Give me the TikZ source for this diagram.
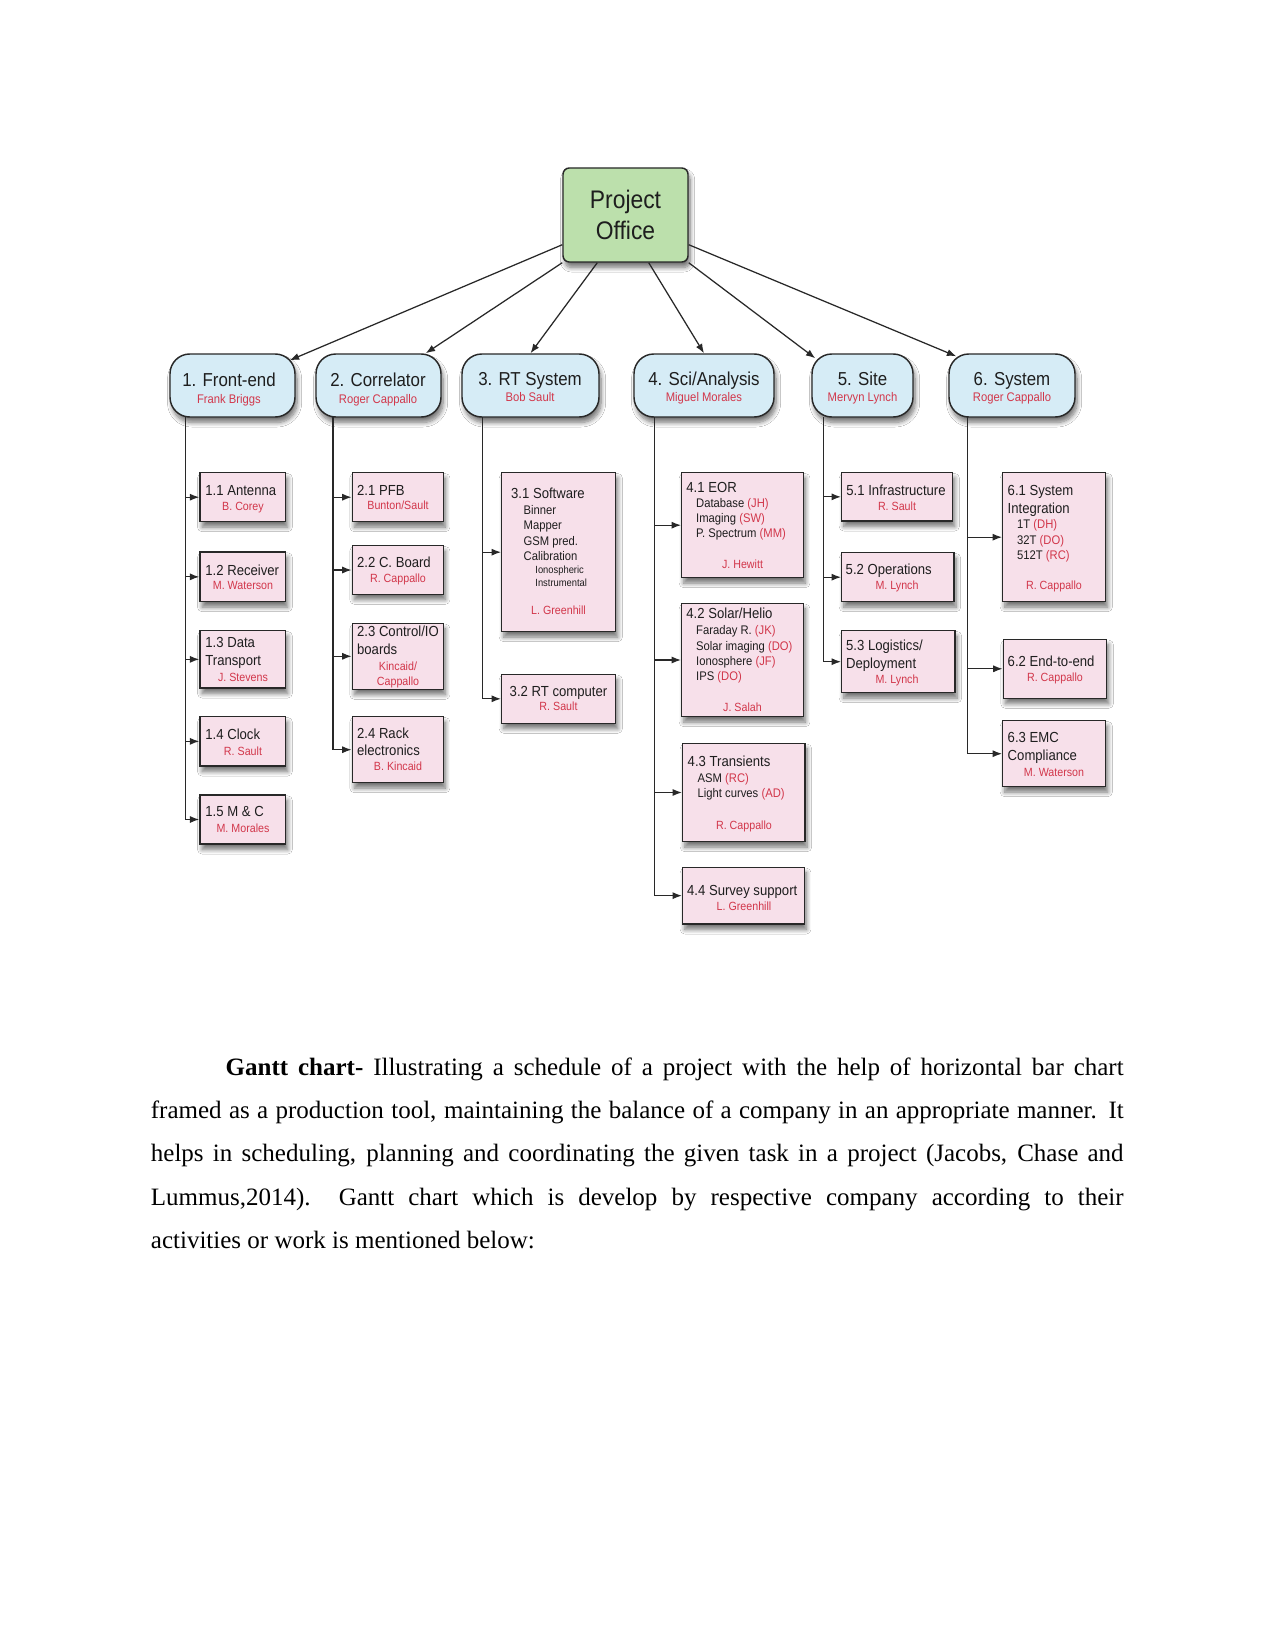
\documentclass[tikz,border=0pt]{standalone}
\usepackage{fontspec}
\setmainfont{Liberation Serif}
\newfontfamily\dsans[FakeStretch=0.9]{Liberation Sans}
\usetikzlibrary{arrows.meta,shadows,shadows.blur,fit,calc}
\definecolor{pogreen}{RGB}{188,224,172}
\definecolor{lblue}{RGB}{214,236,246}
\definecolor{lpink}{RGB}{247,224,234}
\definecolor{redtxt}{RGB}{210,55,75}
\definecolor{linec}{RGB}{40,40,40}
\definecolor{txtc}{RGB}{30,30,30}
\tikzset{
  conn/.style={draw=linec, line width=0.6pt, -{Latex[length=4.5pt,width=3.4pt]}},
  shad/.style={blur shadow={shadow xshift=1pt, shadow yshift=-2.6pt, shadow blur steps=8, shadow blur radius=2.2pt, shadow opacity=55}},
  pobox/.style={shad, draw=linec, line width=0.7pt, fill=pogreen, rounded corners=3pt, inner sep=0pt},
  lonebox/.style={shad, draw=linec, line width=0.7pt, fill=lblue, rounded corners=9.5pt, inner sep=0pt},
  ltwobox/.style={shad, draw=linec, line width=0.7pt, fill=lpink, inner sep=0pt},
  pot/.style={font=\dsans\fontsize{12.2}{14}\selectfont, text=txtc, anchor=base, inner sep=0pt},
  lonet/.style={font=\dsans\fontsize{9}{10}\selectfont, text=txtc, anchor=base, inner sep=0pt},
  lonen/.style={font=\dsans\fontsize{6}{7}\selectfont, text=redtxt, anchor=base, inner sep=0pt},
  ttl/.style={font=\dsans\fontsize{7}{8}\selectfont, text=txtc, anchor=base west, inner sep=0pt},
  sub/.style={font=\dsans\fontsize{6}{7}\selectfont, text=txtc, anchor=base west, inner sep=0pt},
  tinyt/.style={font=\dsans\fontsize{5}{5.5}\selectfont, text=txtc, anchor=base west, inner sep=0pt},
  nm/.style={font=\dsans\fontsize{5.7}{6.5}\selectfont, text=redtxt, anchor=base, inner sep=0pt},
  body/.style={font=\fontsize{12}{14}\selectfont, anchor=base west, inner sep=0pt},
}
\newcommand{\rd}[1]{\textcolor{redtxt}{#1}}
\begin{document}
\begin{tikzpicture}[x=0.48pt,y=-0.48pt]
\useasboundingbox[fill=white] (0,0) rectangle (1275,1651);

% Project office
\node[pobox, fit={(563,168)(688,262)}] (po) {};
\node[pot] (pot1) at (625.5,208.3) {Project};
\node[pot] (pot2) at (625.5,239.3) {Office};

% level 1
\node[lonebox, fit={(170,354)(295,417)}] (b1) {};
\node[lonebox, fit={(316,354)(441,417)}] (b2) {};
\node[lonebox, fit={(462,354)(599,417)}] (b3) {};
\node[lonebox, fit={(634,354)(774,417)}] (b4) {};
\node[lonebox, fit={(812,354)(913,417)}] (b5) {};
\node[lonebox, fit={(949,354)(1075,417)}] (b6) {};
\node[lonet] (b1t) at (229,386.7) {1. Front-end};
\node[lonen] (b1n) at (229,403.3) {Frank Briggs};
\node[lonet] (b2t) at (378,386.7) {2. Correlator};
\node[lonen] (b2n) at (378,403) {Roger Cappallo};
\node[lonet] (b3t) at (530,385) {3. RT System};
\node[lonen] (b3n) at (530,401.7) {Bob Sault};
\node[lonet] (b4t) at (704,385) {4. Sci/Analysis};
\node[lonen] (b4n) at (704,401.7) {Miguel Morales};
\node[lonet] (b5t) at (862.5,385) {5. Site};
\node[lonen] (b5n) at (862.5,401.7) {Mervyn Lynch};
\node[lonet] (b6t) at (1012,385) {6. System};
\node[lonen] (b6n) at (1012,401.7) {Roger Cappallo};

% arrows from project office
\draw[conn] ($(po.south west)+(0,-18)$) -- ($(b1.north east)+(-6,7)$);
\draw[conn] (po.south west) -- ($(b2.north east)+(-16,0)$);
\draw[conn] ($(po.south west)+(35,0)$) -- (b3.north);
\draw[conn] ($(po.south east)+(-40,0)$) -- (b4.north);
\draw[conn] (po.south east) -- ($(b5.north west)+(4,5)$);
\draw[conn] ($(po.south east)+(0,-18)$) -- ($(b6.north west)+(8,3)$);

% level 2 boxes
\node[ltwobox, fit={(200,472.7)(285.7,521.7)}] (c11) {};
\node[ltwobox, fit={(200,552)(285.7,601.7)}] (c12) {};
\node[ltwobox, fit={(200,630.7)(285.7,688)}] (c13) {};
\node[ltwobox, fit={(200,716.7)(285.7,766)}] (c14) {};
\node[ltwobox, fit={(200,795)(285.7,844)}] (c15) {};

\node[ltwobox, fit={(352.3,472.7)(443.3,521.7)}] (c21) {};
\node[ltwobox, fit={(352.3,545.7)(443.3,594.3)}] (c22) {};
\node[ltwobox, fit={(352.3,623.3)(443.3,689.3)}] (c23) {};
\node[ltwobox, fit={(352.3,716.7)(443.3,782.7)}] (c24) {};

\node[ltwobox, fit={(501.7,472.7)(615.7,631.7)}] (c31) {};
\node[ltwobox, fit={(501.7,674.3)(615.7,723.3)}] (c32) {};

\node[ltwobox, fit={(681.7,472.7)(803.3,577.7)}] (c41) {};
\node[ltwobox, fit={(681.7,603.3)(803.3,716.7)}] (c42) {};
\node[ltwobox, fit={(682.7,743.3)(805,841.7)}] (c43) {};
\node[ltwobox, fit={(682.7,867.3)(804.3,924)}] (c44) {};

\node[ltwobox, fit={(841.7,472.7)(952.7,521)}] (c51) {};
\node[ltwobox, fit={(841.7,552.7)(954,601.7)}] (c52) {};
\node[ltwobox, fit={(841.7,630.7)(955,692.7)}] (c53) {};

\node[ltwobox, fit={(1002.7,472.7)(1105.7,601.7)}] (c61) {};
\node[ltwobox, fit={(1003.3,639.3)(1106.7,698.3)}] (c62) {};
\node[ltwobox, fit={(1002.7,720.7)(1105.7,786.7)}] (c63) {};

% trunks
\coordinate (t1) at (185.7,417);
\coordinate (t2) at (333,417);
\coordinate (t3) at (482.7,417);
\coordinate (t4) at (654.5,417);
\coordinate (t5) at (823.3,417);
\coordinate (t6) at (967.3,417);
\foreach \c in {c11,c12,c13,c14,c15} \draw[conn] (t1) |- (\c.west);
\foreach \c in {c21,c22,c23,c24} \draw[conn] (t2) |- (\c.west);
\foreach \c in {c31,c32} \draw[conn] (t3) |- (\c.west);
\foreach \c in {c41,c42,c43,c44} \draw[conn] (t4) |- (\c.west);
\foreach \c in {c51,c52,c53} \draw[conn] (t5) |- (\c.west);
\foreach \c in {c61,c62,c63} \draw[conn] (t6) |- (\c.west);

% texts column 1
\node[ttl] (x11a) at (205,495) {1.1 Antenna};
\node[nm] (x11b) at (243,510) {B. Corey};
\node[ttl] (x12a) at (205,575) {1.2 Receiver};
\node[nm] (x12b) at (243,589.3) {M. Waterson};
\node[ttl] (x13a) at (205,647.3) {1.3 Data};
\node[ttl] (x13b) at (205,665) {Transport};
\node[nm] (x13c) at (243,681.7) {J. Stevens};
\node[ttl] (x14a) at (205,739.3) {1.4 Clock};
\node[nm] (x14b) at (243,755) {R. Sault};
\node[ttl] (x15a) at (205,816.7) {1.5 M \& C};
\node[nm] (x15b) at (243,832.7) {M. Morales};

% column 2
\node[ttl] (x21a) at (356.7,495) {2.1 PFB};
\node[nm] (x21b) at (398,509.3) {Bunton/Sault};
\node[ttl] (x22a) at (356.7,567.3) {2.2 C. Board};
\node[nm] (x22b) at (398,582.7) {R. Cappallo};
\node[ttl] (x23a) at (356.7,636.7) {2.3 Control/IO};
\node[ttl] (x23b) at (356.7,654) {boards};
\node[nm] (x23c) at (398,670) {Kincaid/};
\node[nm] (x23d) at (398,685) {Cappallo};
\node[ttl] (x24a) at (356.7,738.3) {2.4 Rack};
\node[ttl] (x24b) at (356.7,755) {electronics};
\node[nm] (x24c) at (398,770) {B. Kincaid};

% column 3
\node[ttl] (x31a) at (510.7,498.3) {3.1 Software};
\node[sub] (x31b) at (523.3,514.3) {Binner};
\node[sub] (x31c) at (523.3,529.3) {Mapper};
\node[sub] (x31d) at (523.3,545) {GSM pred.};
\node[sub] (x31e) at (523.3,560) {Calibration};
\node[tinyt] (x31f) at (535,573.3) {Ionospheric};
\node[tinyt] (x31g) at (535,586.7) {Instrumental};
\node[nm] (x31h) at (558.5,614) {L. Greenhill};
\node[ttl] (x32a) at (509.3,696) {3.2 RT computer};
\node[nm] (x32b) at (558.5,710.7) {R. Sault};

% column 4
\node[ttl] (x41a) at (686,492.7) {4.1 EOR};
\node[sub] (x41b) at (695.7,507.3) {Database \rd{(JH)}};
\node[sub] (x41c) at (695.7,522.7) {Imaging \rd{(SW)}};
\node[sub] (x41d) at (695.7,537.3) {P. Spectrum \rd{(MM)}};
\node[nm] (x41e) at (742.5,568.3) {J. Hewitt};
\node[ttl] (x42a) at (686,618.3) {4.2 Solar/Helio};
\node[sub] (x42b) at (695.7,634.3) {Faraday R. \rd{(JK)}};
\node[sub] (x42c) at (695.7,650) {Solar imaging \rd{(DO)}};
\node[sub] (x42d) at (695.7,665) {Ionosphere \rd{(JF)}};
\node[sub] (x42e) at (695.7,680) {IPS \rd{(DO)}};
\node[nm] (x42f) at (742.5,711.7) {J. Salah};
\node[ttl] (x43a) at (687.3,766.7) {4.3 Transients};
\node[sub] (x43b) at (697.3,782.3) {ASM \rd{(RC)}};
\node[sub] (x43c) at (697.3,797.7) {Light curves \rd{(AD)}};
\node[nm] (x43d) at (744,829) {R. Cappallo};
\node[ttl] (x44a) at (686.7,895) {4.4 Survey support};
\node[nm] (x44b) at (744,910) {L. Greenhill};

% column 5
\node[ttl] (x51a) at (846,495) {5.1 Infrastructure};
\node[nm] (x51b) at (897,510) {R. Sault};
\node[ttl] (x52a) at (845.3,574) {5.2 Operations};
\node[nm] (x52b) at (897,589.3) {M. Lynch};
\node[ttl] (x53a) at (845.7,650) {5.3 Logistics/};
\node[ttl] (x53b) at (845.7,668.3) {Deployment};
\node[nm] (x53c) at (897,683.3) {M. Lynch};

% column 6
\node[ttl] (x61a) at (1007.3,495.7) {6.1 System};
\node[ttl] (x61b) at (1007.3,513.3) {Integration};
\node[sub] (x61c) at (1016.7,528.3) {1T \rd{(DH)}};
\node[sub] (x61d) at (1016.7,544) {32T \rd{(DO)}};
\node[sub] (x61e) at (1016.7,559.3) {512T \rd{(RC)}};
\node[nm] (x61f) at (1054,589.3) {R. Cappallo};
\node[ttl] (x62a) at (1007.3,666) {6.2 End-to-end};
\node[nm] (x62b) at (1055,681) {R. Cappallo};
\node[ttl] (x63a) at (1007.3,742) {6.3 EMC};
\node[ttl] (x63b) at (1007.3,760.7) {Compliance};
\node[nm] (x63c) at (1054,776) {M. Waterson};

% paragraph
\node[body] (p1) at (225.3,1075) {\makebox[431pt][s]{\textbf{Gantt chart-} Illustrating a schedule of a project with the help of horizontal bar chart}};
\node[body] (p2) at (150.5,1118.3) {\makebox[466.9pt][s]{framed as a production tool, maintaining the balance of a company in an appropriate manner. It}};
\node[body] (p3) at (150.5,1161.7) {\makebox[466.9pt][s]{helps in scheduling, planning and coordinating the given task in a project (Jacobs, Chase and}};
\node[body] (p4) at (150.5,1205) {\makebox[466.9pt][s]{Lummus,2014).~~Gantt chart which is develop by respective company according to their}};
\node[body] (p5) at (150.5,1248.3) {activities or work is mentioned below:};
\end{tikzpicture}
\end{document}
